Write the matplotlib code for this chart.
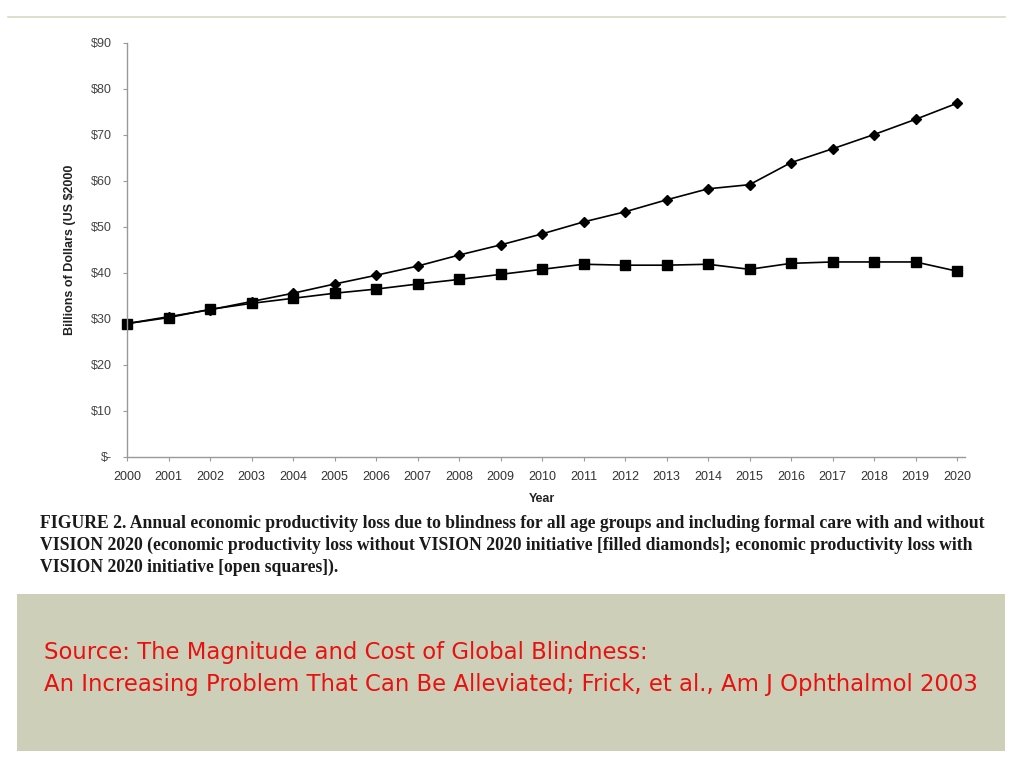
import matplotlib.pyplot as plt
from matplotlib.lines import Line2D
from matplotlib.patches import Rectangle

# valores (miles de millones US$ 2000)
years = list(range(2000, 2021))
sin_vision = [29.0, 30.5, 32.0, 33.8, 35.6, 37.6, 39.5, 41.5, 43.9, 46.1, 48.5,
              51.1, 53.3, 55.9, 58.3, 59.2, 64.0, 67.0, 70.1, 73.4, 76.9]
con_vision = [29.0, 30.3, 32.1, 33.4, 34.5, 35.6, 36.5, 37.6, 38.6, 39.7, 40.8,
              41.9, 41.7, 41.7, 41.9, 40.8, 42.1, 42.4, 42.4, 42.4, 40.4]
y_ticks = [0, 10, 20, 30, 40, 50, 60, 70, 80, 90]
y_labels = ['$-', '$10', '$20', '$30', '$40', '$50', '$60', '$70', '$80', '$90']

caption = [
    "FIGURE 2. Annual economic productivity loss due to blindness for all age groups and including formal care with and without",
    "VISION 2020 (economic productivity loss without VISION 2020 initiative [filled diamonds]; economic productivity loss with",
    "VISION 2020 initiative [open squares]).",
]
source = ["Source: The Magnitude and Cost of Global Blindness:",
          "An Increasing Problem That Can Be Alleviated; Frick, et al., Am J Ophthalmol 2003"]

W, H = 1024, 768
fig = plt.figure(figsize=(10.24, 7.68), dpi=100)
fig.patch.set_facecolor('white')

# linea superior de la diapositiva
fig.add_artist(Line2D([8 / W, 1005 / W], [1 - 17 / H, 1 - 17 / H], color='#d9d9c4', lw=1.2))

ax = fig.add_axes([127 / W, 1 - 457 / H, 830 / W, (457 - 43) / H])
ax.plot(years, sin_vision, color='black', lw=1.2, marker='D', markersize=5.5, clip_on=False)
ax.plot(years, con_vision, color='black', lw=1.2, marker='s', markersize=7, clip_on=False)

ax.set_xlim(2000, 2020)
ax.set_ylim(0, 90)
ax.set_xticks(years)
ax.set_xticklabels([str(y) for y in years], fontsize=9, color='#333333', family='Liberation Sans')
ax.set_yticks(y_ticks)
ax.set_yticklabels(y_labels, fontsize=9, color='#444444', family='Liberation Sans')
ax.tick_params(axis='x', length=3, color='#999999', pad=7)
ax.tick_params(axis='y', length=3, color='#999999', pad=8)
for side in ['top', 'right']:
    ax.spines[side].set_visible(False)
for side in ['left', 'bottom']:
    ax.spines[side].set_color('#999999')
    ax.spines[side].set_linewidth(1.0)
ax.spines['bottom'].set_bounds(2000, 2020.2)

ax.set_ylabel('Billions of Dollars (US $2000', fontsize=9, fontweight='bold',
              family='Liberation Sans', color='#222222')
ax.yaxis.set_label_coords(-0.062, 0.5)
ax.set_xlabel('Year', fontsize=9, fontweight='bold', family='Liberation Sans', color='#222222')
ax.xaxis.set_label_coords(0.5, -0.088)

# pie de figura
for i, linea in enumerate(caption):
    fig.text(40 / W, 1 - (523 + 22 * i) / H, linea, fontsize=12.7, fontweight='bold',
             family='Liberation Serif', va='center', ha='left', color='#1a1a1a')

# caja de la fuente
fig.add_artist(Rectangle((17 / W, 1 - 751 / H), (1005 - 17) / W, (751 - 594) / H,
                         transform=fig.transFigure, facecolor='#cdcfb9', edgecolor='none'))
for i, s in enumerate(source):
    fig.text(44 / W, 1 - (653 + 31 * i) / H, s, fontsize=16.4, color='#e8110f',
             family='DejaVu Sans', va='center', ha='left')

fig.savefig('out.png', dpi=100)
